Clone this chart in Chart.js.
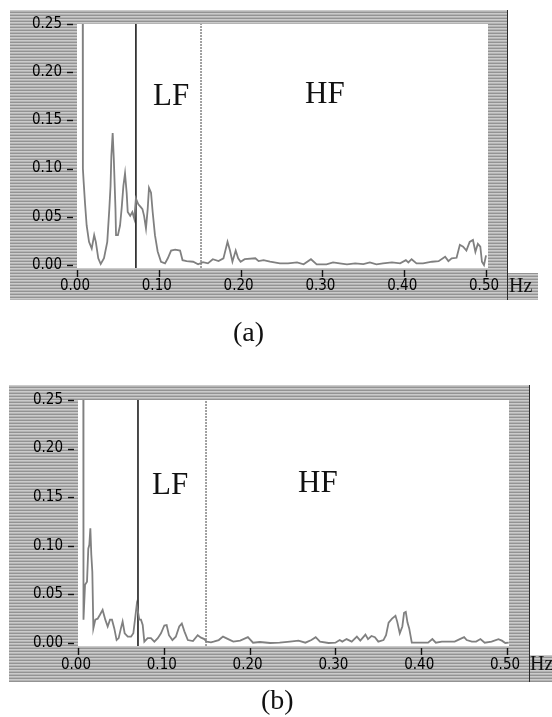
<!DOCTYPE html>
<html><head><meta charset="utf-8">
<script src="https://cdn.jsdelivr.net/npm/chart.js@4.4.1/dist/chart.umd.min.js"></script>
<style>
html,body{margin:0;padding:0;background:#fff;}
body{width:552px;height:717px;position:relative;overflow:hidden;}
canvas{position:absolute;left:0;}
.t{position:absolute;font-family:'Liberation Serif','Times New Roman',serif;color:#111;line-height:1;white-space:nowrap;}
</style></head><body>
<canvas id="ca" width="552" height="360" style="top:0"></canvas>
<canvas id="cb" width="552" height="357" style="top:360px"></canvas>
<div class="t" style="left:153px;top:79px;font-size:31px">LF</div>
<div class="t" style="left:305px;top:77px;font-size:31px">HF</div>
<div class="t" style="left:509px;top:275px;font-size:20px">Hz</div>
<div class="t" style="left:233px;top:318px;font-size:28px">(a)</div>
<div class="t" style="left:152px;top:468px;font-size:31px">LF</div>
<div class="t" style="left:298px;top:466px;font-size:31px">HF</div>
<div class="t" style="left:530px;top:653px;font-size:20px">Hz</div>
<div class="t" style="left:261px;top:686px;font-size:28px">(b)</div>
<script>
// ---- data ----
const xTicks = [0.00, 0.10, 0.20, 0.30, 0.40, 0.50];
const yTicks = [0.00, 0.05, 0.10, 0.15, 0.20, 0.25];

// panel (a): frequency (Hz) and power
const freqA = [0.0070,0.0072,0.0080,0.0098,0.0118,0.0147,0.018,0.021,0.023,0.026,0.029,0.033,0.037,0.0395,0.041,0.042,0.0436,0.045,0.047,0.0477,0.050,0.0526,0.0546,0.0567,0.0587,0.0607,0.062,0.065,0.0676,0.070,0.072,0.075,0.078,0.080,0.082,0.0843,0.0864,0.088,0.0905,0.0925,0.0953,0.0986,0.1027,0.1076,0.111,0.115,0.120,0.126,0.129,0.134,0.142,0.148,0.154,0.160,0.166,0.173,0.179,0.184,0.187,0.190,0.194,0.197,0.200,0.205,0.218,0.222,0.228,0.236,0.248,0.258,0.269,0.277,0.286,0.293,0.305,0.313,0.321,0.330,0.340,0.350,0.358,0.366,0.374,0.385,0.395,0.402,0.405,0.409,0.415,0.423,0.434,0.442,0.450,0.454,0.458,0.464,0.468,0.472,0.476,0.480,0.484,0.487,0.490,0.493,0.495,0.4975,0.500];
const powerA = [0.26,0.100,0.088,0.064,0.041,0.024,0.017,0.031,0.024,0.007,0.001,0.007,0.024,0.058,0.082,0.113,0.137,0.110,0.059,0.031,0.031,0.041,0.059,0.082,0.095,0.075,0.055,0.051,0.055,0.048,0.069,0.063,0.060,0.058,0.051,0.038,0.058,0.080,0.075,0.055,0.031,0.014,0.0034,0.0017,0.007,0.015,0.016,0.015,0.005,0.004,0.0034,0.0007,0.003,0.0017,0.006,0.0041,0.0069,0.024,0.015,0.0034,0.015,0.007,0.0034,0.006,0.007,0.004,0.005,0.0034,0.0017,0.0017,0.0027,0.0007,0.006,0.0007,0.0007,0.0027,0.0017,0.0007,0.0017,0.001,0.0027,0.0007,0.0017,0.0027,0.0017,0.005,0.0027,0.006,0.0017,0.0017,0.0034,0.004,0.0086,0.004,0.0069,0.0075,0.021,0.019,0.015,0.024,0.026,0.0137,0.022,0.019,0.0034,0.000,0.010];
const bandEdgesA = [0.072, 0.1516];

// panel (b)
const freqB = [0.0062,0.0064,0.0082,0.0105,0.012,0.0132,0.0144,0.0155,0.0167,0.0179,0.0202,0.0229,0.0256,0.0287,0.0318,0.0346,0.0373,0.0396,0.0423,0.045,0.0474,0.050,0.052,0.0544,0.058,0.0618,0.0645,0.0668,0.0684,0.0699,0.0715,0.0734,0.0754,0.0773,0.0812,0.085,0.089,0.093,0.0967,0.1006,0.1033,0.106,0.110,0.114,0.118,0.121,0.124,0.128,0.134,0.1395,0.1434,0.1472,0.150,0.155,0.158,0.164,0.169,0.175,0.181,0.189,0.198,0.204,0.212,0.224,0.235,0.247,0.257,0.265,0.272,0.277,0.282,0.292,0.300,0.305,0.308,0.313,0.319,0.325,0.329,0.335,0.338,0.342,0.346,0.350,0.356,0.359,0.362,0.366,0.370,0.372,0.375,0.378,0.380,0.382,0.384,0.386,0.389,0.399,0.408,0.413,0.417,0.424,0.432,0.439,0.445,0.450,0.453,0.459,0.464,0.469,0.474,0.482,0.490,0.494,0.498,0.502];
const powerB = [0.26,0.024,0.060,0.063,0.097,0.101,0.118,0.091,0.073,0.015,0.024,0.025,0.029,0.034,0.024,0.017,0.024,0.024,0.015,0.003,0.005,0.015,0.022,0.010,0.0065,0.0065,0.010,0.027,0.039,0.032,0.024,0.024,0.0185,0.0014,0.005,0.005,0.0014,0.005,0.010,0.018,0.0185,0.008,0.003,0.0065,0.017,0.020,0.012,0.003,0.002,0.008,0.0055,0.004,0.0014,0.0007,0.0014,0.003,0.0065,0.004,0.0014,0.0024,0.006,0.0003,0.001,0.000,0.0003,0.0014,0.0024,0.0003,0.003,0.006,0.0014,0.000,0.0003,0.003,0.0014,0.004,0.0014,0.0065,0.0024,0.0086,0.004,0.0072,0.006,0.0014,0.003,0.008,0.021,0.025,0.028,0.022,0.010,0.017,0.031,0.032,0.021,0.015,0.0003,0.0003,0.0003,0.004,0.0003,0.0014,0.0014,0.0014,0.004,0.006,0.003,0.0014,0.0014,0.004,0.0003,0.0014,0.004,0.0024,0.000,0.0003];
const bandEdgesB = [0.0699, 0.1492];

// ---- drawing ----
function hatch(ctx){
  const c = document.createElement('canvas'); c.width = 6; c.height = 3;
  const g = c.getContext('2d');
  const rows = ['#939393', '#cbcbcb', '#b4b4b4'];
  rows.forEach((col, i) => { g.fillStyle = col; g.fillRect(0, i, 6, 1); });
  return ctx.createPattern(c, 'repeat');
}

const framePlugin = {
  id: 'frame',
  beforeDraw(chart, args, o){
    const ctx = chart.ctx, ca = chart.chartArea;
    ctx.save();
    ctx.fillStyle = hatch(ctx);
    ctx.fillRect(o.l, o.t, o.r - o.l, o.b - o.t);
    ctx.fillRect(o.r, o.et, o.er - o.r, o.b - o.et);
    ctx.fillStyle = '#fff';
    ctx.fillRect(ca.left, ca.top, ca.right - ca.left, ca.bottom - ca.top);
    ctx.strokeStyle = '#2a2a2a'; ctx.lineWidth = 1;
    ctx.beginPath(); ctx.moveTo(o.r + 0.5, o.t); ctx.lineTo(o.r + 0.5, o.b); ctx.stroke();
    ctx.restore();
  },
  afterDraw(chart){
    const ctx = chart.ctx, ca = chart.chartArea, xs = chart.scales.x, ys = chart.scales.y;
    ctx.save(); ctx.strokeStyle = '#111'; ctx.lineWidth = 1.4;
    xs.ticks.forEach((t, i) => { const px = Math.round(xs.getPixelForTick(i)) + 0.5;
      ctx.beginPath(); ctx.moveTo(px, ca.bottom + 2); ctx.lineTo(px, ca.bottom + 9); ctx.stroke(); });
    ys.ticks.forEach((t, i) => { const py = Math.round(ys.getPixelForTick(i)) + 0.5;
      ctx.beginPath(); ctx.moveTo(ca.left - 10, py); ctx.lineTo(ca.left - 4, py); ctx.stroke(); });
    ctx.restore();
  }
};

const tickFont = {family: "'DejaVu Sans Condensed','DejaVu Sans',sans-serif", size: 15};

function makeChart(id, freq, power, edges, g){
  const curve = freq.map((f, i) => ({x: f, y: power[i]}));
  const edgeSets = edges.map((e, k) => ({
    data: [{x: e, y: g.yMin}, {x: e, y: g.yMax}],
    borderColor: k === 0 ? '#1e1e1e' : '#7a7a7a',
    borderWidth: k === 0 ? 1.6 : 1.4,
    borderDash: k === 0 ? [] : [2, 1],
    pointRadius: 0
  }));
  return new Chart(document.getElementById(id), {
    type: 'line',
    data: { datasets: [
      {data: curve, borderColor: '#808080', borderWidth: 1.8, pointRadius: 0, tension: 0},
      ...edgeSets
    ]},
    options: {
      responsive: false, animation: false, events: [],
      layout: {padding: g.pad},
      plugins: {legend: {display: false}, tooltip: {enabled: false}, frame: g.frame},
      scales: {
        x: {type: 'linear', min: 0, max: g.xMax,
          afterBuildTicks: s => { s.ticks = xTicks.map(v => ({value: v})); },
          afterFit: s => { s.height = g.xAxisH; },
          grid: {display: false, drawTicks: false}, border: {display: false},
          ticks: {padding: g.xPad, labelOffset: -2, color: '#000', font: tickFont,
            maxRotation: 0, autoSkip: false, callback: v => Number(v).toFixed(2)}},
        y: {type: 'linear', min: g.yMin, max: g.yMax,
          afterBuildTicks: s => { s.ticks = yTicks.map(v => ({value: v})); },
          afterFit: s => { s.width = g.yAxisW; },
          grid: {display: false, drawTicks: false}, border: {display: false},
          ticks: {padding: 15, color: '#000', font: tickFont, callback: v => Number(v).toFixed(2)}}
      }
    },
    plugins: [framePlugin]
  });
}

makeChart('ca', freqA, powerA, bandEdgesA, {
  pad: {left: 10, top: 22, right: 64, bottom: 60}, yAxisW: 67, xAxisH: 32, xPad: 9,
  xMax: 0.5024, yMin: -0.0031, yMax: 0.25,
  frame: {l: 10, t: 10, r: 507, b: 300, et: 273, er: 538}
});
makeChart('cb', freqB, powerB, bandEdgesB, {
  pad: {left: 9, top: 40, right: 43, bottom: 35}, yAxisW: 69, xAxisH: 36, xPad: 10,
  xMax: 0.5023, yMin: -0.0031, yMax: 0.25,
  frame: {l: 9, t: 25, r: 529, b: 322, et: 295, er: 552}
});
</script>
</body></html>
